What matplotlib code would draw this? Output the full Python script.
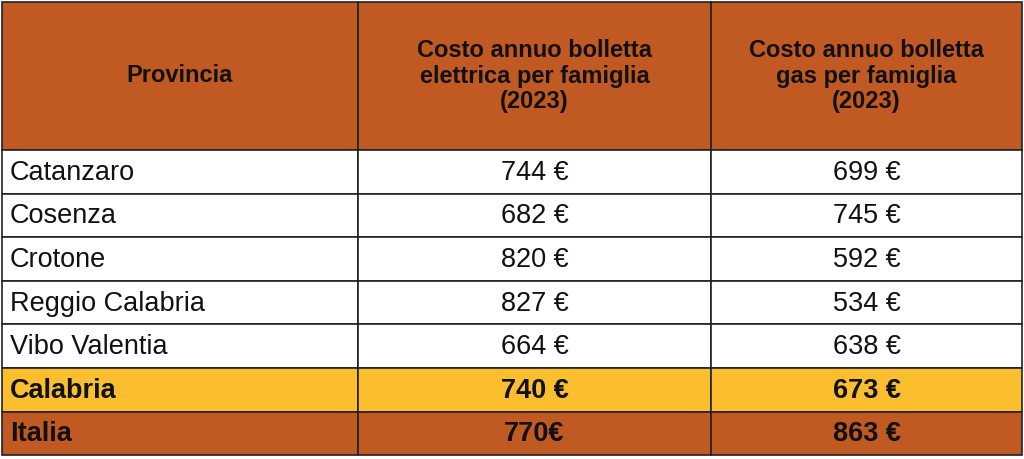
import matplotlib.pyplot as plt
from matplotlib.patches import Rectangle

headers = ["Provincia",
           "Costo annuo bolletta\nelettrica per famiglia\n(2023)",
           "Costo annuo bolletta\ngas per famiglia\n(2023)"]
province = ["Catanzaro", "Cosenza", "Crotone", "Reggio Calabria", "Vibo Valentia", "Calabria", "Italia"]
elettrica = ["744 €", "682 €", "820 €", "827 €", "664 €", "740 €", "770€"]
gas = ["699 €", "745 €", "592 €", "534 €", "638 €", "673 €", "863 €"]

ORANGE = "#C15A22"
YELLOW = "#FBBE2E"
col_x = [2, 358, 711, 1022]
header_h = 148
row_h = 43.6
top = 2

fig = plt.figure(figsize=(10.24, 4.59), dpi=100)
ax = fig.add_axes([0, 0, 1, 1])
ax.set_xlim(0, 1024)
ax.set_ylim(459, 0)
ax.axis("off")
font = "Liberation Sans"

# header
for c in range(3):
    ax.add_patch(Rectangle((col_x[c], top), col_x[c+1]-col_x[c], header_h,
                           facecolor=ORANGE, edgecolor="#222222", lw=1.2))
    ax.text((col_x[c]+col_x[c+1])/2, top+header_h/2, headers[c], ha="center", va="center",
            fontsize=17, fontweight="bold", family=font, linespacing=1.15, color="#111111")

for i, (p, e, g) in enumerate(zip(province, elettrica, gas)):
    y0 = top + header_h + i*row_h
    bold = p in ("Calabria", "Italia")
    face = YELLOW if p == "Calabria" else (ORANGE if p == "Italia" else "white")
    for c in range(3):
        ax.add_patch(Rectangle((col_x[c], y0), col_x[c+1]-col_x[c], row_h,
                               facecolor=face, edgecolor="#222222", lw=1.2))
    yc = y0 + row_h/2 + 1
    kw = dict(va="center", fontsize=19.5, family=font, color="#111111",
              fontweight="bold" if bold else "normal")
    ax.text(col_x[0]+8, yc, p, ha="left", **kw)
    ax.text((col_x[1]+col_x[2])/2, yc, e, ha="center", **kw)
    ax.text((col_x[2]+col_x[3])/2, yc, g, ha="center", **kw)

fig.savefig("out.png", dpi=100)
